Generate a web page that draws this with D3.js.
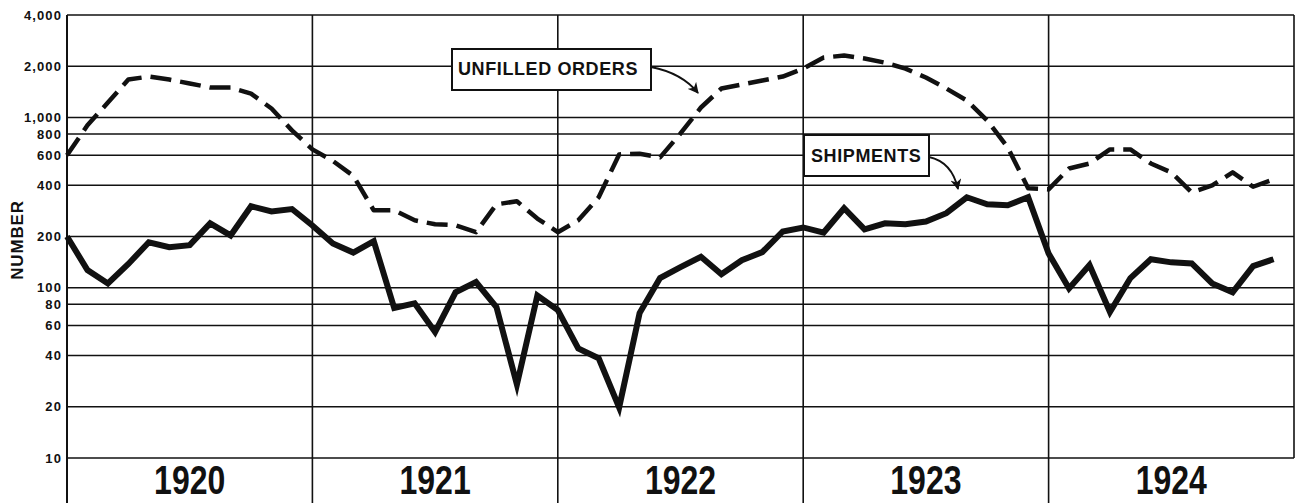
<!DOCTYPE html>
<html>
<head>
<meta charset="utf-8">
<script src="https://cdn.jsdelivr.net/npm/d3@7"></script>
<style>
  html, body { margin: 0; padding: 0; background: #fff; }
  svg { display: block; }
  text { font-family: "Liberation Sans", Arial, sans-serif; font-weight: bold; fill: #111; }
</style>
</head>
<body>
<svg id="chart" width="1295" height="503"></svg>
<script>
// ---- data (monthly, Jan 1920 – Dec 1924) ----
const years = ["1920", "1921", "1922", "1923", "1924"];
const shipments = [
  200, 127, 106, 138, 185, 173, 178, 239, 203, 301, 281, 290,
  232, 182, 161, 188, 76, 81, 55, 94, 108, 77, 27, 90,
  74, 44, 38.5, 19.8, 71, 114, 132, 152, 120, 145, 162, 214,
  226, 211, 293, 220, 239, 236, 245, 274, 340, 309, 305, 340,
  159, 99, 136, 72, 114, 147, 141, 139, 106, 94, 134, 147
];
const unfilledOrders = [
  600, 900, 1225, 1670, 1740, 1670, 1585, 1500, 1500, 1380, 1130, 840,
  650, 556, 454, 285, 285, 249, 236, 233, 212, 309, 322, 255,
  212, 249, 340, 607, 612, 583, 806, 1145, 1480, 1562, 1648, 1740,
  1937, 2250, 2310, 2220, 2100, 1937, 1717, 1480, 1259, 960, 667, 384,
  378, 502, 537, 649, 649, 537, 476, 363, 399, 476, 392, 433
];
const tickValues = [10, 20, 40, 60, 80, 100, 200, 400, 600, 800, 1000, 2000, 4000];
const tickLabels = ["10", "20", "40", "60", "80", "100", "200", "400", "600", "800", "1,000", "2,000", "4,000"];
const yAxisTitle = "NUMBER";
const labelUnfilled = "UNFILLED ORDERS";
const labelShipments = "SHIPMENTS";

// ---- layout ----
const svg = d3.select("#chart");
const W = 1295, H = 503;
const x = d3.scaleLinear().domain([0, 60]).range([67, 1294]);
const y = d3.scaleLog().domain([10, 4000]).range([458, 15]);
const ink = "#111";

// horizontal grid lines
svg.append("g").selectAll("line").data(tickValues).join("line")
  .attr("x1", x(0)).attr("x2", x(60))
  .attr("y1", d => y(d)).attr("y2", d => y(d))
  .attr("stroke", ink).attr("stroke-width", 1.6);

// vertical lines: left axis & year dividers extend to bottom; right border to 10-line
svg.append("g").selectAll("line").data([0, 12, 24, 36, 48]).join("line")
  .attr("x1", d => x(d)).attr("x2", d => x(d))
  .attr("y1", y(4000)).attr("y2", H)
  .attr("stroke", ink).attr("stroke-width", d => d === 0 ? 2 : 1.6);
svg.append("line")
  .attr("x1", x(60)).attr("x2", x(60))
  .attr("y1", y(4000)).attr("y2", y(10))
  .attr("stroke", ink).attr("stroke-width", 1.6);

// tick labels
svg.append("g").selectAll("text").data(tickValues).join("text")
  .attr("x", 62).attr("y", d => y(d)).attr("dy", "0.36em")
  .attr("text-anchor", "end")
  .attr("font-size", 13).attr("letter-spacing", 1.1)
  .text((d, i) => tickLabels[i]);

// axis title
svg.append("text")
  .attr("transform", "translate(23,240) rotate(-90)")
  .attr("text-anchor", "middle")
  .attr("font-size", 17).attr("letter-spacing", 0.8)
  .text(yAxisTitle);

// year labels
svg.append("g").selectAll("text").data(years).join("text")
  .attr("transform", (d, i) => `translate(${x(i * 12 + 6)},494) scale(0.8,1)`)
  .attr("text-anchor", "middle")
  .attr("font-size", 40)
  .text(d => d);

// lines
const line = d3.line().x((d, i) => x(i)).y(d => y(d));
svg.append("path").datum(unfilledOrders)
  .attr("d", line).attr("fill", "none")
  .attr("stroke", ink).attr("stroke-width", 4.5)
  .attr("stroke-dasharray", "21,9")
  .attr("stroke-linejoin", "round");
svg.append("path").datum(shipments)
  .attr("d", line).attr("fill", "none")
  .attr("stroke", ink).attr("stroke-width", 6)
  .attr("stroke-linejoin", "miter").attr("stroke-miterlimit", 6);

// arrow marker
const defs = svg.append("defs");
defs.append("marker").attr("id", "arr")
  .attr("viewBox", "0 0 10 10").attr("refX", 9).attr("refY", 5)
  .attr("markerWidth", 11).attr("markerHeight", 11)
  .attr("markerUnits", "userSpaceOnUse").attr("orient", "auto")
  .append("path").attr("d", "M0,0 L10,5 L0,10 L3,5 z").attr("fill", ink);

// label boxes
function labelBox(x0, y0, w, h, tx, ty, txt) {
  svg.append("rect").attr("x", x0).attr("y", y0).attr("width", w).attr("height", h)
    .attr("fill", "#fff").attr("stroke", ink).attr("stroke-width", 2);
  svg.append("text").attr("x", tx).attr("y", ty)
    .attr("font-size", 18).attr("letter-spacing", 0.6).text(txt);
}
labelBox(452, 49, 199, 41, 458, 75, labelUnfilled);
labelBox(804, 135, 125, 41, 811, 162, labelShipments);

// arrows
svg.append("path").attr("d", "M651,67 Q682,73 698,93")
  .attr("fill", "none").attr("stroke", ink).attr("stroke-width", 1.8)
  .attr("marker-end", "url(#arr)");
svg.append("path").attr("d", "M929,157 Q952,162 958,189")
  .attr("fill", "none").attr("stroke", ink).attr("stroke-width", 1.8)
  .attr("marker-end", "url(#arr)");
</script>
</body>
</html>
